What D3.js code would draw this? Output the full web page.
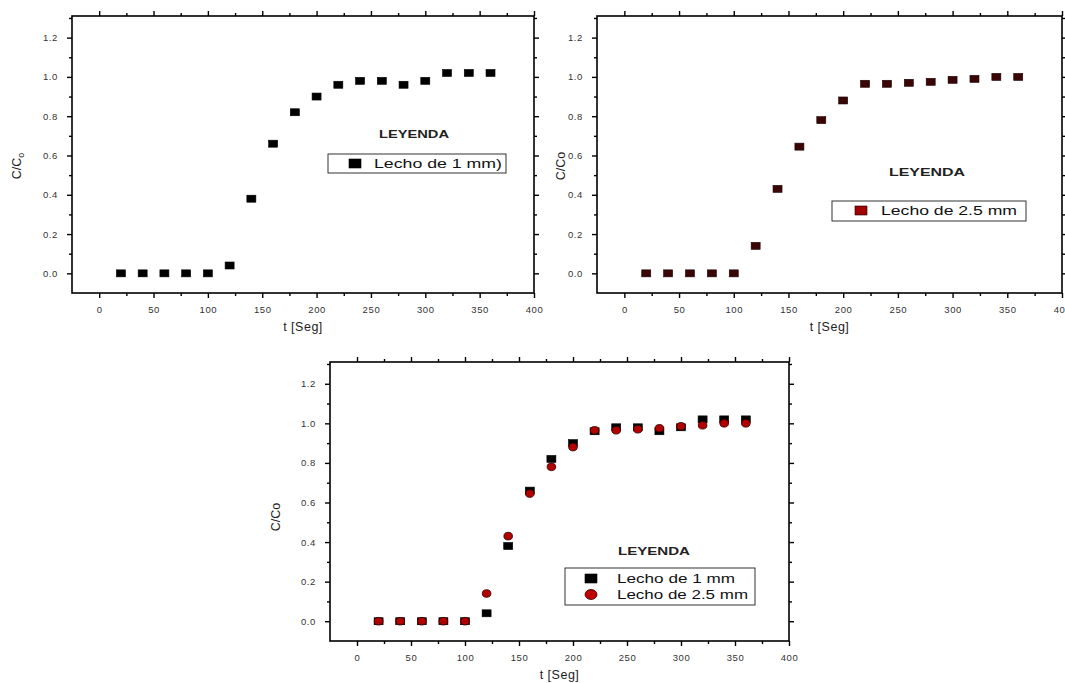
<!DOCTYPE html>
<html>
<head>
<meta charset="utf-8">
<script src="https://cdn.jsdelivr.net/npm/d3@7"></script>
<style>
  html, body { margin: 0; padding: 0; background: #fff; }
  svg { display: block; }
  text { font-family: "Liberation Sans", Arial, sans-serif; }
</style>
</head>
<body>
<svg id="chart" width="1065" height="683"></svg>
<script>
// ---- data ----
const times = [20, 40, 60, 80, 100, 120, 140, 160, 180, 200, 220, 240, 260, 280, 300, 320, 340, 360];
const lecho1 = [0, 0, 0, 0, 0, 0.04, 0.38, 0.66, 0.82, 0.90, 0.96, 0.98, 0.98, 0.96, 0.98, 1.02, 1.02, 1.02];
const lecho25 = [0, 0, 0, 0, 0, 0.14, 0.43, 0.645, 0.78, 0.88, 0.965, 0.965, 0.97, 0.975, 0.985, 0.99, 1.0, 1.0];
const xMajorTicks = [0, 50, 100, 150, 200, 250, 300, 350, 400];
const xMinorTicks = [25, 75, 125, 175, 225, 275, 325, 375];
const yMajorTicks = [0, 0.2, 0.4, 0.6, 0.8, 1.0, 1.2];
const yMinorTicks = [0.1, 0.3, 0.5, 0.7, 0.9, 1.1, 1.3];
const xDomain = [-25, 400];
const yDomain = [-0.1, 1.31];
const seriesNames = ["Lecho de 1 mm", "Lecho de 2.5 mm"];

const svg = d3.select("#chart");
svg.append("rect").attr("width", 1065).attr("height", 683).attr("fill", "#fff");

function drawPanel(p) {
  const g = svg.append("g");
  const x = d3.scaleLinear().domain(xDomain).range([p.left, p.right]);
  const y = d3.scaleLinear().domain(yDomain).range([p.bottom, p.top]);

  g.append("rect").attr("x", p.left).attr("y", p.top)
    .attr("width", p.right - p.left).attr("height", p.bottom - p.top)
    .attr("fill", "none").attr("stroke", "#000").attr("stroke-width", 1.6);

  const styleAxis = sel => {
    sel.select(".domain").remove();
    sel.selectAll("line").attr("stroke", "#000").attr("stroke-width", 1.4);
    sel.selectAll("text").attr("fill", "#333").style("font-size", "9.5px")
      .style("letter-spacing", "0.6px")
      .style("font-family", "'Liberation Sans', Arial, sans-serif");
  };
  const fmt = d3.format(".1f");
  const yMin = yMinorTicks.filter(v => v > yDomain[0] && v < yDomain[1]);

  g.append("g").attr("transform", `translate(0,${p.bottom})`)
    .call(d3.axisBottom(x).tickValues(xMajorTicks).tickSize(5).tickPadding(8).tickFormat(d3.format("d")))
    .call(styleAxis);
  g.append("g").attr("transform", `translate(0,${p.bottom})`)
    .call(d3.axisBottom(x).tickValues(xMinorTicks).tickSize(3).tickFormat(""))
    .call(styleAxis);
  g.append("g").attr("transform", `translate(0,${p.top})`)
    .call(d3.axisTop(x).tickValues(xMajorTicks).tickSize(5).tickFormat(""))
    .call(styleAxis);
  g.append("g").attr("transform", `translate(0,${p.top})`)
    .call(d3.axisTop(x).tickValues(xMinorTicks).tickSize(3).tickFormat(""))
    .call(styleAxis);
  g.append("g").attr("transform", `translate(${p.left},0)`)
    .call(d3.axisLeft(y).tickValues(yMajorTicks).tickSize(5).tickPadding(9).tickFormat(fmt))
    .call(styleAxis);
  g.append("g").attr("transform", `translate(${p.left},0)`)
    .call(d3.axisLeft(y).tickValues(yMin).tickSize(3).tickFormat(""))
    .call(styleAxis);
  g.append("g").attr("transform", `translate(${p.right},0)`)
    .call(d3.axisRight(y).tickValues(yMajorTicks).tickSize(5).tickFormat(""))
    .call(styleAxis);
  g.append("g").attr("transform", `translate(${p.right},0)`)
    .call(d3.axisRight(y).tickValues(yMin).tickSize(3).tickFormat(""))
    .call(styleAxis);

  // axis titles
  g.append("text").attr("x", (p.left + p.right) / 2).attr("y", p.bottom + 38)
    .attr("text-anchor", "middle").style("font-size", "12.5px").style("letter-spacing", "0.5px")
    .attr("fill", "#222").text("t [Seg]");
  const yl = g.append("text")
    .attr("transform", `translate(${p.yLab[0]},${p.yLab[1]}) rotate(-90)`)
    .attr("text-anchor", "middle").style("font-size", "12.5px").attr("fill", "#222");
  if (p.ySub) {
    yl.append("tspan").text("C/C");
    yl.append("tspan").attr("dy", 3).style("font-size", "9px").text("o");
  } else {
    yl.text("C/Co");
  }

  // series
  p.series.forEach(s => {
    const pts = times.map((t, i) => ({ t, v: s.values[i] }));
    if (s.shape === "square") {
      g.append("g").selectAll("rect").data(pts).join("rect")
        .attr("x", d => x(d.t) - 4.5).attr("y", d => y(d.v) - 3.5)
        .attr("width", 9).attr("height", 7)
        .attr("fill", s.fill).attr("stroke", s.stroke).attr("stroke-width", 0.6);
    } else {
      g.append("g").selectAll("ellipse").data(pts).join("ellipse")
        .attr("cx", d => x(d.t)).attr("cy", d => y(d.v)).attr("rx", 4.3).attr("ry", 3.8)
        .attr("fill", s.fill).attr("stroke", s.stroke).attr("stroke-width", 0.8);
    }
  });

  // legend
  const L = p.legend;
  g.append("text").attr("x", L.titleX).attr("y", L.titleY).attr("text-anchor", "middle")
    .style("font-size", "10.5px").style("font-weight", "bold").attr("fill", "#222")
    .attr("textLength", L.titleW).attr("lengthAdjust", "spacingAndGlyphs").text("LEYENDA");
  g.append("rect").attr("x", L.x).attr("y", L.y).attr("width", L.w).attr("height", L.h)
    .attr("fill", "#fff").attr("stroke", "#333").attr("stroke-width", 1);
  p.series.forEach((s, i) => {
    const cy = L.rows[i];
    if (s.shape === "square") {
      g.append("rect").attr("x", L.swX - 6).attr("y", cy - 4.5).attr("width", 12).attr("height", 9)
        .attr("fill", s.legendFill).attr("stroke", s.stroke).attr("stroke-width", 0.6);
    } else {
      g.append("ellipse").attr("cx", L.swX).attr("cy", cy).attr("rx", 6).attr("ry", 5)
        .attr("fill", s.legendFill).attr("stroke", s.stroke).attr("stroke-width", 0.8);
    }
    g.append("text").attr("x", L.textX).attr("y", cy + 4.5)
      .style("font-size", "12px").attr("fill", "#111")
      .attr("textLength", L.textW[i]).attr("lengthAdjust", "spacingAndGlyphs")
      .text(s.label);
  });
}

drawPanel({
  left: 72, right: 534, top: 16, bottom: 293, ySub: true, yLab: [21, 166],
  series: [{ values: lecho1, shape: "square", fill: "#000", stroke: "#000", legendFill: "#000", label: seriesNames[0] + ")" }],
  legend: { titleX: 414, titleY: 138, titleW: 70, x: 328, y: 154, w: 178, h: 19,
            rows: [163.5], swX: 355, textX: 374, textW: [128] }
});

drawPanel({
  left: 597, right: 1062, top: 16, bottom: 293, ySub: false, yLab: [565, 166],
  series: [{ values: lecho25, shape: "square", fill: "#3a0505", stroke: "#1a0000", legendFill: "#a30000", label: seriesNames[1] }],
  legend: { titleX: 927, titleY: 176, titleW: 76, x: 832, y: 201, w: 194, h: 20,
            rows: [210.5], swX: 861, textX: 881, textW: [136] }
});

drawPanel({
  left: 330, right: 789, top: 362, bottom: 641, ySub: false, yLab: [280, 517],
  series: [
    { values: lecho1, shape: "square", fill: "#000", stroke: "#000", legendFill: "#000", label: seriesNames[0] },
    { values: lecho25, shape: "circle", fill: "#b00000", stroke: "#300000", legendFill: "#c00000", label: seriesNames[1] }
  ],
  legend: { titleX: 654, titleY: 555, titleW: 72, x: 565, y: 568, w: 190, h: 37,
            rows: [578.5, 594.5], swX: 591, textX: 617, textW: [118, 131] }
});
</script>
</body>
</html>
